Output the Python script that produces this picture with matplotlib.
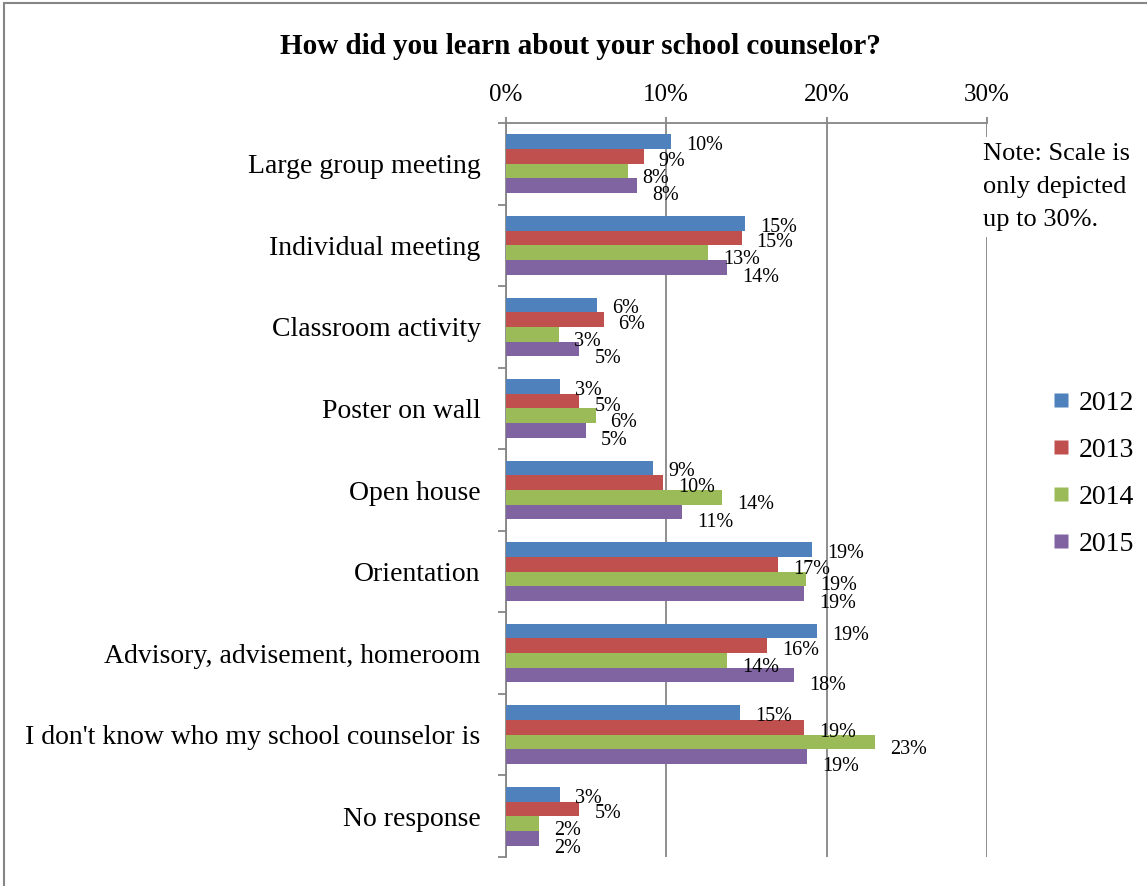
import matplotlib
matplotlib.use('Agg')
import matplotlib.pyplot as plt
from matplotlib.lines import Line2D
from matplotlib.patches import Rectangle

plt.rcParams['font.family'] = ['Liberation Serif', 'DejaVu Serif']

# data (percent of respondents)
categories = ['Large group meeting', 'Individual meeting', 'Classroom activity',
              'Poster on wall', 'Open house', 'Orientation',
              'Advisory, advisement, homeroom',
              "I don't know who my school counselor is", 'No response']
years = ['2012', '2013', '2014', '2015']
v2012 = [10.3, 14.9, 5.7, 3.4, 9.2, 19.1, 19.4, 14.6, 3.4]
v2013 = [8.6, 14.7, 6.1, 4.6, 9.8, 17.0, 16.3, 18.6, 4.6]
v2014 = [7.6, 12.6, 3.3, 5.6, 13.5, 18.7, 13.8, 23.0, 2.1]
v2015 = [8.2, 13.8, 4.6, 5.0, 11.0, 18.6, 18.0, 18.8, 2.1]
colors = ['#4F81BD', '#C0504D', '#9BBB59', '#8064A2']
xticks = [0, 10, 20, 30]

series = [v2012, v2013, v2014, v2015]
grey = '#868686'

fig = plt.figure(figsize=(11.47, 8.86), dpi=100)
ax = fig.add_axes([505.7 / 1147, 1 - 857 / 886, (987 - 505.7) / 1147, (857 - 123) / 886])

h = 0.18
# vertical nudge of data labels (pixels), mimicking the excel placement
nudge = [-4, -5, -7, -10]
for j, vals in enumerate(series):
    ys = [i + (j - 1.5) * h for i in range(len(categories))]
    ax.barh(ys, vals, height=h, color=colors[j], edgecolor='none', label=years[j], zorder=3)
    for y, v in zip(ys, vals):
        ax.annotate('%d%%' % round(v), xy=(v, y), xytext=(15, nudge[j]),
                    textcoords='offset pixels', ha='left', va='center',
                    fontsize=14.5, zorder=5)

ax.set_xlim(0, 30)
ax.set_ylim(len(categories) - 0.5, -0.5)
ax.xaxis.tick_top()
ax.set_xticks(xticks)
ax.set_xticklabels(['%d%%' % t for t in xticks], fontsize=18)
ax.tick_params(axis='x', length=4.5, width=1.3, color=grey, pad=8)
ax.grid(axis='x', color=grey, linewidth=1.3, zorder=0)
ax.set_axisbelow(True)

ax.set_yticks(range(len(categories)))
ax.set_yticklabels(categories, fontsize=20)
ax.set_yticks([i - 0.5 for i in range(len(categories) + 1)], minor=True)
ax.tick_params(axis='y', which='major', length=0, pad=18)
ax.tick_params(axis='y', which='minor', length=6, width=1.3, color=grey)

for s in ['right', 'bottom']:
    ax.spines[s].set_visible(False)
for s in ['left', 'top']:
    ax.spines[s].set_color(grey)
    ax.spines[s].set_linewidth(1.3)

fig.text(580.5 / 1147, 1 - 46 / 886, 'How did you learn about your school counselor?',
         ha='center', va='center', fontsize=21, fontweight='bold')

fig.text(983 / 1147, 1 - 143 / 886, 'Note: Scale is\nonly depicted\nup to 30%.',
         ha='left', va='top', fontsize=19, linespacing=1.65, zorder=10,
         bbox=dict(facecolor='white', edgecolor='none', pad=4))

handles = [Line2D([], [], marker='s', linestyle='none', markersize=10,
                  markerfacecolor=c, markeredgecolor='none') for c in colors]
fig.legend(handles, years, loc='center left', bbox_to_anchor=(1037 / 1147, 1 - 473.5 / 886),
           frameon=False, fontsize=20, handlelength=0.7, handletextpad=0.3,
           labelspacing=0.78, borderpad=0)

fig.patches.append(Rectangle((4 / 1147, -0.1), 1.2, 1.1 - 3 / 886, transform=fig.transFigure,
                             fill=False, edgecolor=grey, linewidth=1.5, zorder=0))

fig.savefig('out.png', dpi=100)
